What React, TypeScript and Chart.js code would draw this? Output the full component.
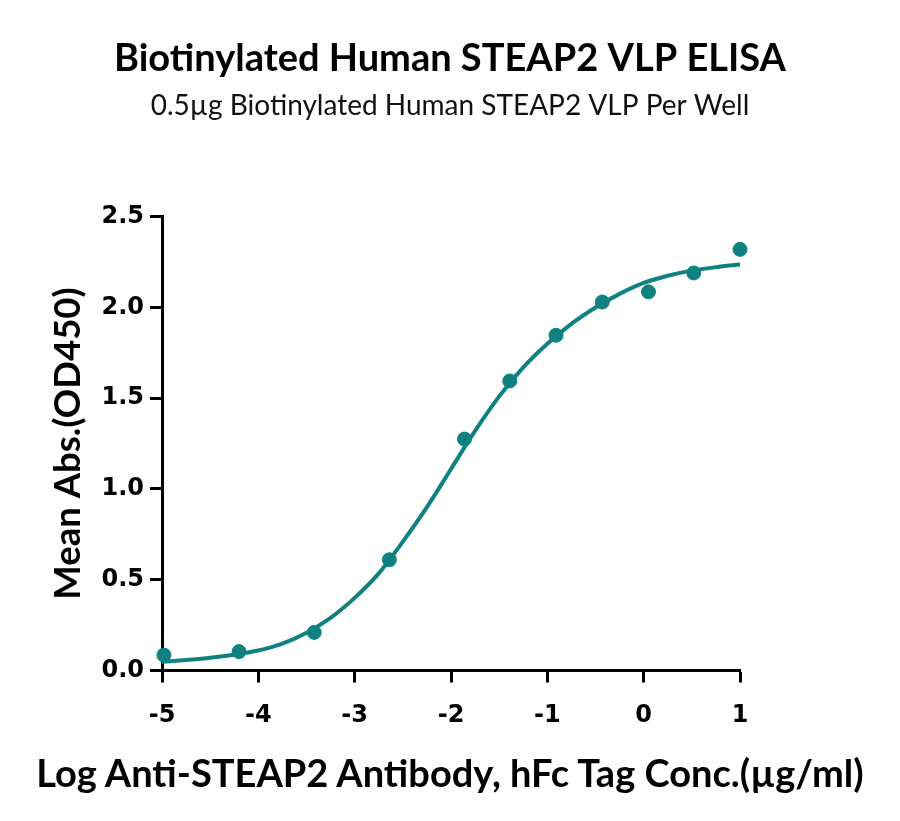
import React, { useEffect, useRef } from 'react'
import Chart from 'chart.js/auto'

// ============================================================================
// DATA
// ============================================================================

// Measured points: log concentration (µg/ml) vs mean OD450
const logConc = [-4.98, -4.2, -3.42, -2.64, -1.86, -1.39, -0.91, -0.43, 0.05, 0.52, 1.0]
const meanAbs = [0.085, 0.104, 0.21, 0.61, 1.275, 1.595, 1.847, 2.03, 2.086, 2.19, 2.32]

// Fitted curve, every 0.25 log units
const curveX = [
  -5, -4.75, -4.5, -4.25, -4, -3.75, -3.5, -3.25, -3, -2.75, -2.5, -2.25, -2,
  -1.75, -1.5, -1.25, -1, -0.75, -0.5, -0.25, 0, 0.25, 0.5, 0.75, 1,
]
const curveY = [
  0.048, 0.058, 0.07, 0.087, 0.11, 0.148, 0.208, 0.29, 0.4, 0.535, 0.71, 0.9, 1.11,
  1.32, 1.51, 1.67, 1.8, 1.91, 2.0, 2.075, 2.135, 2.175, 2.203, 2.222, 2.237,
]

const xTicks = [-5, -4, -3, -2, -1, 0, 1]
const yTicks = [0, 0.5, 1, 1.5, 2, 2.5]

const TITLE = 'Biotinylated Human STEAP2 VLP ELISA'
const SUBTITLE = '0.5µg Biotinylated Human STEAP2 VLP Per Well'
const X_TITLE = 'Log Anti-STEAP2 Antibody, hFc Tag Conc.(µg/ml)'
const Y_TITLE = 'Mean Abs.(OD450)'

const TEAL = '#0f8181'
const FONT = 'Lato, "Open Sans", sans-serif'
const TICK_FONT = '"DejaVu Sans", sans-serif'

// ============================================================================
// CHART
// ============================================================================

const ElisaChart: React.FC = () => {
  const canvasRef = useRef<HTMLCanvasElement>(null)
  const chartRef = useRef<Chart | null>(null)

  useEffect(() => {
    if (!canvasRef.current) return
    if (chartRef.current) chartRef.current.destroy()

    const tickGrid = {
      drawOnChartArea: false,
      drawTicks: true,
      tickLength: 12,
      tickWidth: 3,
      tickColor: '#000',
    }

    chartRef.current = new Chart(canvasRef.current, {
      type: 'scatter',
      data: {
        datasets: [
          {
            type: 'line',
            label: 'fit',
            data: curveX.map((x, i) => ({ x, y: curveY[i] })),
            borderColor: TEAL,
            borderWidth: 4,
            pointRadius: 0,
            cubicInterpolationMode: 'monotone',
            fill: false,
            clip: false as any,
          },
          {
            label: 'data',
            data: logConc.map((x, i) => ({ x, y: meanAbs[i] })),
            backgroundColor: TEAL,
            borderColor: TEAL,
            pointRadius: 7,
            pointHoverRadius: 7,
            clip: false as any,
          },
        ],
      },
      options: {
        animation: false,
        responsive: false,
        events: [],
        layout: { padding: 0 },
        plugins: {
          legend: { display: false },
          tooltip: { enabled: false },
          title: {
            display: true,
            text: TITLE,
            color: '#000',
            font: { family: FONT, size: 38, weight: 'bold', lineHeight: 1.2 },
            padding: { top: 36, bottom: 0 },
          },
          subtitle: {
            display: true,
            text: SUBTITLE,
            color: '#111',
            font: { family: FONT, size: 28, weight: 'normal', lineHeight: 1.2 },
            padding: { top: 8, bottom: 93.5 },
          },
        },
        scales: {
          x: {
            type: 'linear',
            min: -5,
            max: 1,
            afterBuildTicks: (scale: any) => {
              scale.ticks = xTicks.map((v) => ({ value: v }))
            },
            afterFit: (scale: any) => {
              scale.height = 150.5
            },
            border: { color: '#000', width: 3 },
            grid: tickGrid,
            ticks: {
              color: '#000',
              padding: 19,
              font: { family: TICK_FONT, size: 24, weight: 'bold' },
              callback: (v: any) => String(v),
            },
          },
          y: {
            type: 'linear',
            min: 0,
            max: 2.5,
            afterBuildTicks: (scale: any) => {
              scale.ticks = yTicks.map((v) => ({ value: v }))
            },
            afterFit: (scale: any) => {
              scale.width = 162
            },
            border: { color: '#000', width: 3 },
            grid: tickGrid,
            ticks: {
              color: '#000',
              padding: 6,
              font: { family: TICK_FONT, size: 24, weight: 'bold' },
              callback: (v: any) => Number(v).toFixed(1),
            },
            title: {
              display: true,
              text: Y_TITLE,
              color: '#000',
              font: { family: FONT, size: 36.5, weight: 'bold', lineHeight: 1.2 },
              padding: { top: 46, bottom: 0 },
            },
          },
          // empty right-hand box so the plot ends at x=740 while titles stay centred on the page
          spacer: {
            type: 'linear',
            position: 'right',
            display: true,
            grid: { display: false, drawTicks: false },
            border: { display: false },
            ticks: { display: false },
            afterFit: (scale: any) => {
              scale.width = 160
            },
          },
        },
      } as any,
    })

    return () => {
      if (chartRef.current) {
        chartRef.current.destroy()
        chartRef.current = null
      }
    }
  }, [])

  return <canvas ref={canvasRef} width={900} height={821} style={{ display: 'block' }} />
}

export default function App() {
  useEffect(() => {
    document.body.style.margin = '0'
    document.body.style.background = '#fff'
  }, [])

  return (
    <div style={{ position: 'relative', width: 900, height: 821, background: '#fff' }}>
      <ElisaChart />
      {/* x-axis title is wider than the plot, so it sits on top of the canvas */}
      <div
        style={{
          position: 'absolute',
          left: 0,
          top: 750,
          width: 900,
          textAlign: 'center',
          fontFamily: FONT,
          fontWeight: 'bold',
          fontSize: 38,
          lineHeight: '44px',
          color: '#000',
          whiteSpace: 'nowrap',
        }}
      >
        {X_TITLE}
      </div>
    </div>
  )
}
